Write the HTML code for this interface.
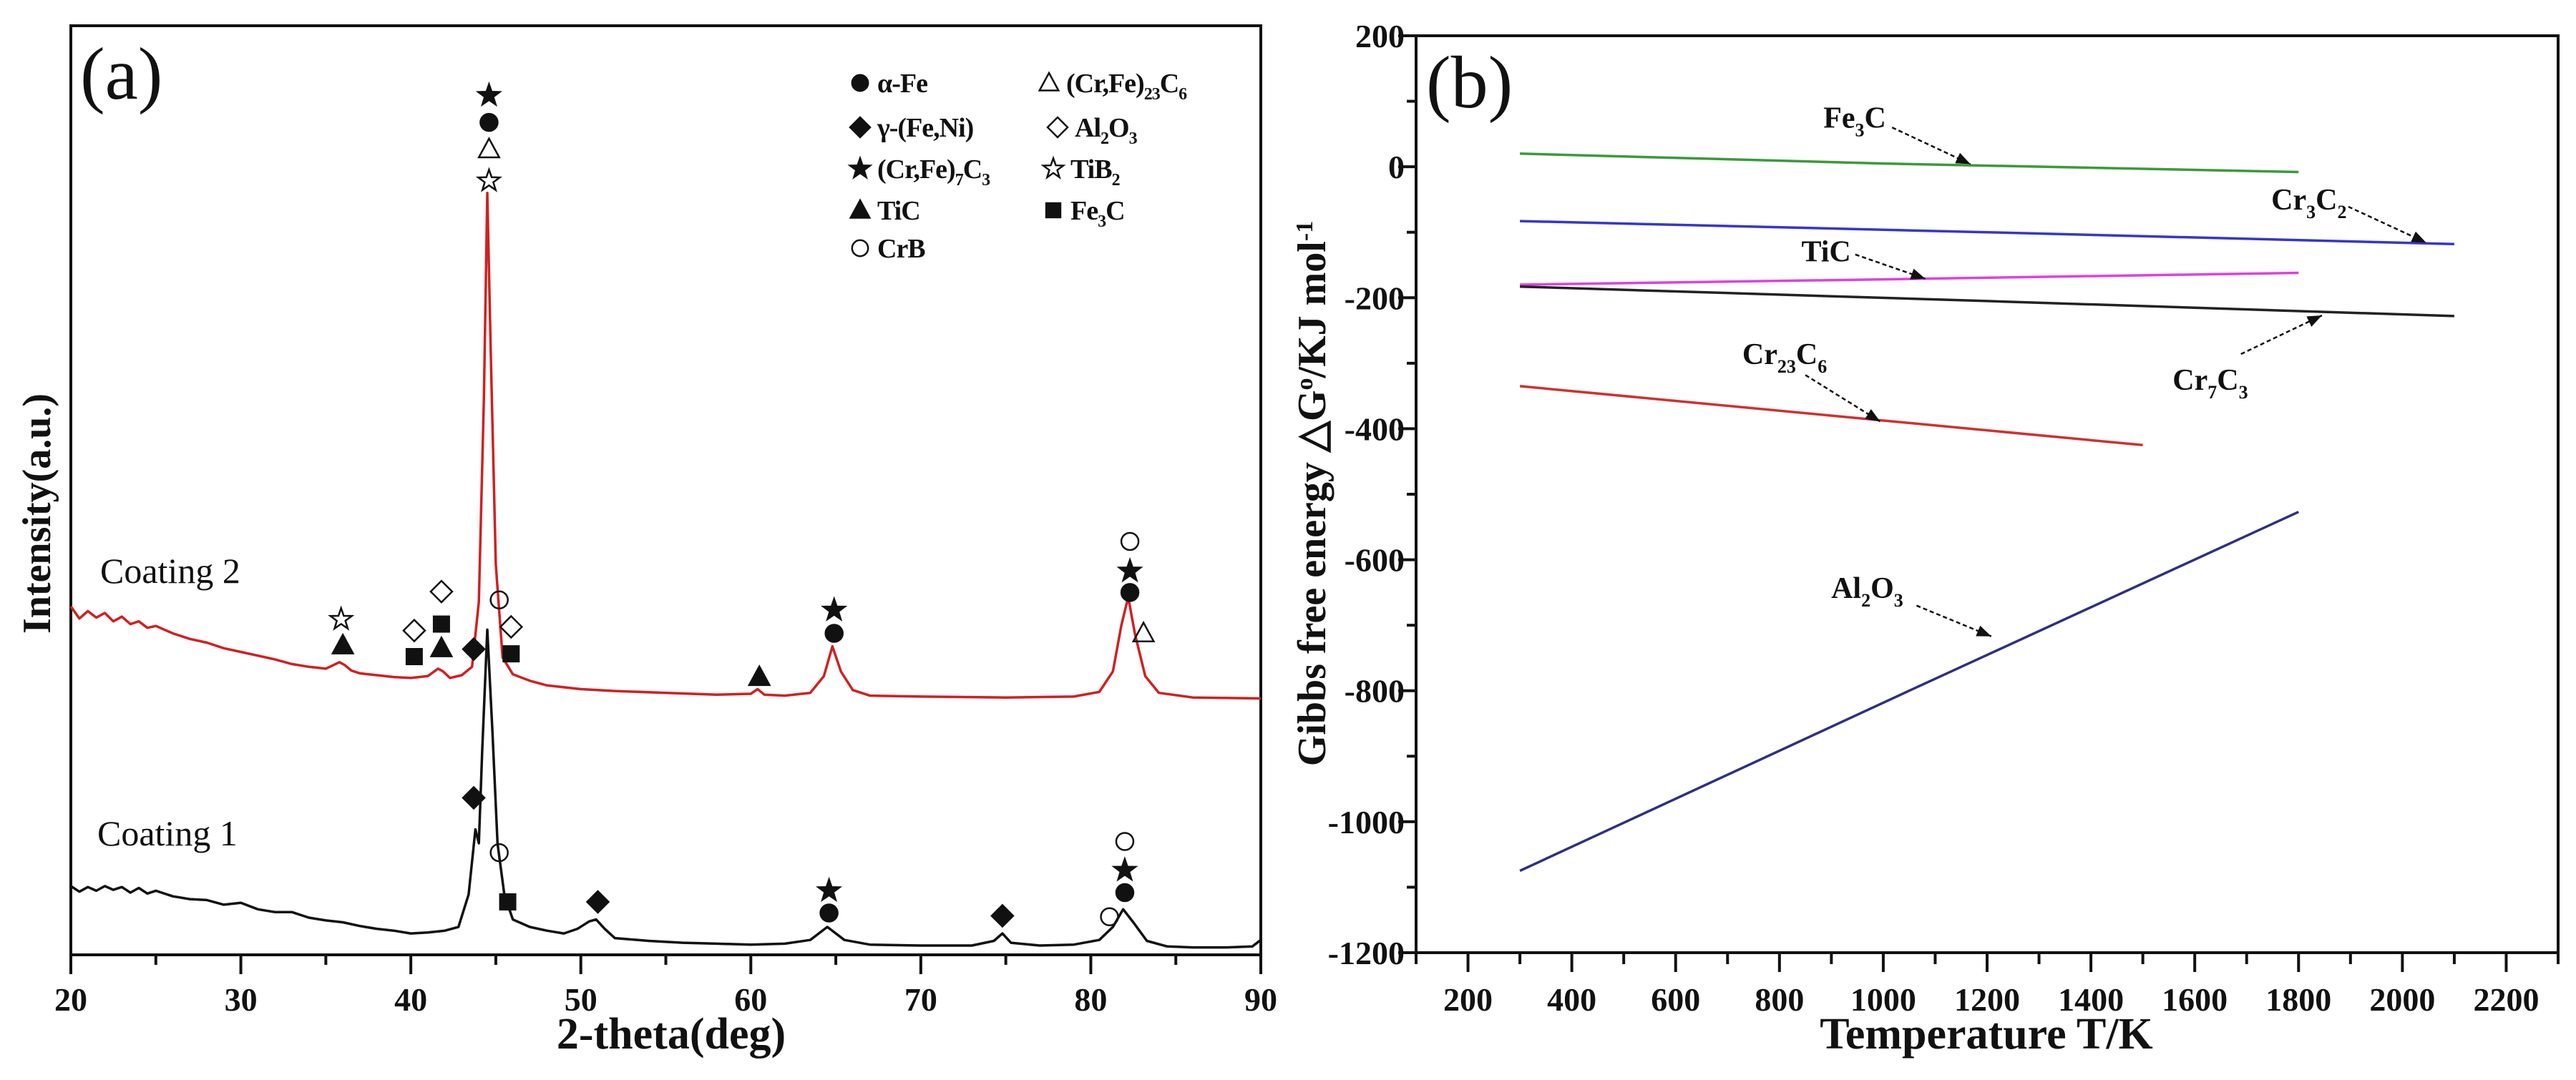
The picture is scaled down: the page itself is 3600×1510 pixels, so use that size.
<!DOCTYPE html>
<html><head><meta charset="utf-8"><style>
html,body{margin:0;padding:0;background:#fff;}
svg{display:block;font-family:"Liberation Serif",serif;}
</style></head><body>
<svg id="fig" width="3600" height="1510" viewBox="0 0 3600 1510" xmlns="http://www.w3.org/2000/svg">
<rect x="0" y="0" width="3600" height="1510" fill="#fff"/>
<g id="pa"></g>
<g id="pb"></g>
</svg>
<script>
// ---------- Panel (a) data ----------
const xTicksA = [20,30,40,50,60,70,80,90];
const c2Deg = [20,20.5,21,21.5,22,22.5,23,23.5,24,24.5,25,26,27,28,29,30,31,32,33,34,35,35.8,36.1,36.5,37,38,39,40,41,41.6,41.9,42.3,43,43.6,44.0,44.3,44.5,44.7,45.0,45.4,46,47,48,50,52,55,58,60,60.4,60.8,62,63.5,64.3,64.8,65.3,66,67,70,75,79,80.5,81.3,81.8,82.2,82.6,83.2,84,86,90];
const c2Int = [37.5,36.2,37.0,36.3,36.8,35.9,36.4,35.6,35.9,35.2,35.4,34.6,34.0,33.6,33.0,32.6,32.2,31.8,31.3,31.0,30.8,31.5,31.2,30.6,30.3,30.1,29.9,29.8,30.0,30.8,30.5,29.8,30.1,31.0,38,60,82,65,42,32,30.2,29.5,29.0,28.6,28.4,28.2,28.0,28.1,28.6,28.0,27.9,28.2,30.0,33.2,30.5,28.5,27.9,27.8,27.7,27.8,28.3,30.5,35.5,38.5,34.5,30.0,28.2,27.7,27.6];
const c1Deg = [20,20.5,21,21.5,22,22.5,23,23.5,24,24.5,25,26,27,28,29,30,31,32,33,34,35,36,37,38,39,40,41,42,42.8,43.4,43.8,44.0,44.2,44.5,44.8,45.1,45.5,46,47,48,49,49.8,50.5,50.9,51.4,52,54,56,58,60,62,63.5,64.5,65.5,67,70,73,74.3,74.8,75.3,77,79,80.5,81.3,81.9,82.5,83.3,84.5,86,88,89.5,90];
const c1Int = [7.4,6.8,7.3,6.9,7.4,7.0,7.3,6.7,7.2,6.6,6.9,6.3,6.0,5.9,5.4,5.6,4.9,4.6,4.6,4.0,3.7,3.5,3.1,2.8,2.6,2.3,2.4,2.6,3.0,6.5,13.5,12,22,35,24,12,6.5,3.8,3.0,2.6,2.3,2.8,3.6,3.8,2.8,1.8,1.5,1.3,1.2,1.1,1.2,1.6,3.0,1.6,1.1,1.0,1.0,1.5,2.3,1.3,1.0,1.1,1.6,3.0,4.9,3.5,1.5,0.9,0.8,0.8,0.9,1.6];
const markType = ['star','circle','otri','ostar','ostar','tri','odiamond','square','odiamond','square','tri','diamond','ocircle','odiamond','square','tri','star','circle','ocircle','star','circle','otri','diamond','ocircle','square','diamond','star','circle','diamond','ocircle','star','circle','ocircle'];
const markDeg  = [44.6,44.6,44.6,44.6,35.9,36.0,40.2,40.2,41.8,41.8,41.8,43.7,45.2,45.9,45.9,60.5,64.9,64.9,82.3,82.3,82.3,83.1,43.7,45.2,45.7,51.0,64.6,64.6,74.8,82.0,82.0,82.0,81.1];
const markInt  = [92.5,89.6,86.7,83.3,36.1,33.3,34.9,32.1,39.1,35.6,33.0,32.9,38.2,35.3,32.4,29.9,37.1,34.6,44.5,41.3,39.0,34.6,16.9,11.0,5.7,5.7,6.9,4.5,4.2,12.2,9.1,6.7,4.1];

// ---------- Panel (b) data ----------
const xTicksB = [200,400,600,800,1000,1200,1400,1600,1800,2000,2200];
const yTicksB = [200,0,-200,-400,-600,-800,-1000,-1200];
const seriesNames = ['Fe3C','Cr3C2','TiC','Cr7C3','Cr23C6','Al2O3'];
const fe3cT=[300,1000,1800], fe3cG=[20,5,-8];
const cr3c2T=[300,1200,2100], cr3c2G=[-83,-100,-118];
const ticT=[300,1000,1800], ticG=[-180,-172,-162];
const cr7c3T=[300,1200,2100], cr7c3G=[-183,-205,-228];
const cr23c6T=[300,900,1500], cr23c6G=[-335,-380,-425];
const al2o3T=[300,1050,1800], al2o3G=[-1075,-800,-527];
const labelT=[945,1820,890,1630,810,969];
const labelG=[75,-50,-129,-325,-286,-643];
const arrowT0=[1017,1896,946,1689,850,1064], arrowG0=[60,-61,-134,-286,-318,-670];
const arrowT1=[1168,2046,1081,1845,994,1208], arrowG1=[4,-116,-171,-227,-389,-717];

const NS='http://www.w3.org/2000/svg';
function mk(parent,tag,attrs){const e=document.createElementNS(NS,tag);for(const k in attrs)e.setAttribute(k,attrs[k]);parent.appendChild(e);return e;}

// ===== Panel A =====
const pa=document.getElementById('pa');
const AL=99,AR=1762,AT=36,AB=1335;
const xA=d=>AL+(d-20)*(AR-AL)/70;
const yA=v=>AB-v*(AB-AT)/100;
let fr=mk(pa,'rect',{x:AL,y:AT,width:AR-AL,height:AB-AT,fill:'none',stroke:'#111','stroke-width':4});


for(let d=20;d<=90;d+=5){
  const major=(d%10===0);
  let t=mk(pa,'line',{x1:xA(d),x2:xA(d),y1:AB,y2:AB+(major?27:14),stroke:'#111','stroke-width':4});
  
  
}
xTicksA.forEach(d=>{
  let t=mk(pa,'text',{x:xA(d),y:1413,'text-anchor':'middle','font-size':46,'font-weight':'bold',fill:'#111'});
  t.textContent=d;
  
  
});
function line(parent,xs,ys,fx,fy,color,w,name){
  let d='';xs.forEach((x,i)=>{d+=(i?'L':'M')+fx(x).toFixed(1)+' '+fy(ys[i]).toFixed(1);});
  let p=mk(parent,'path',{d:d,fill:'none',stroke:color,'stroke-width':w,'stroke-linejoin':'round'});
  
  
  return p;
}
line(pa,c2Deg,c2Int,xA,yA,'#d02020',3.5,'coating-2-line');
line(pa,c1Deg,c1Int,xA,yA,'#111',3.5,'coating-1-line');

function marker(g,type,cx,cy,r){
  const sw=2.5;let e;
  const fill=(type[0]==='o')?'none':'#111';
  const base=type.replace(/^o(?=(circle|diamond|star|tri))/,'');
  if(base==='circle'){e=mk(g,'circle',{cx:cx,cy:cy,r:r*0.8,fill:fill,stroke:'#111','stroke-width':sw});}
  else if(base==='square'){e=mk(g,'rect',{x:cx-r*0.8,y:cy-r*0.8,width:r*1.6,height:r*1.6,fill:'#111'});}
  else if(base==='diamond'){e=mk(g,'polygon',{points:`${cx},${cy-r} ${cx+r},${cy} ${cx},${cy+r} ${cx-r},${cy}`,fill:fill,stroke:'#111','stroke-width':sw});}
  else if(base==='tri'){e=mk(g,'polygon',{points:`${cx},${cy-r} ${cx+r*0.95},${cy+r*0.75} ${cx-r*0.95},${cy+r*0.75}`,fill:fill,stroke:'#111','stroke-width':sw});}
  else if(base==='star'){let pts=[];for(let i=0;i<10;i++){const a=-Math.PI/2+i*Math.PI/5;const rr=(i%2?r*0.42:r*1.05);pts.push((cx+rr*Math.cos(a)).toFixed(1)+','+(cy+rr*Math.sin(a)).toFixed(1));}
    e=mk(g,'polygon',{points:pts.join(' '),fill:fill,stroke:'#111','stroke-width':sw});}
  return e;
}
markType.forEach((t,i)=>{
  let m=marker(pa,t,xA(markDeg[i]),yA(markInt[i]),15);
  
  
});

// legend
const legItems=[
 ['circle',1202,116,'α-Fe',null,null],
 ['otri',1466,116,'(Cr,Fe)','23','C','6'],
 ['diamond',1202,178,'γ-(Fe,Ni)',null,null],
 ['odiamond',1478,178,'Al','2','O','3'],
 ['star',1202,236,'(Cr,Fe)','7','C','3'],
 ['ostar',1472,236,'TiB','2',null],
 ['tri',1202,294,'TiC',null,null],
 ['square',1472,294,'Fe','3','C'],
 ['ocircle',1202,347,'CrB',null,null]
];
legItems.forEach(it=>{
  let g=mk(pa,'g',{});
  
  
  marker(g,it[0],it[1],it[2],14);
  let t=mk(g,'text',{x:it[1]+24,y:it[2]+13,'font-size':38,'font-weight':'bold','letter-spacing':-1,fill:'#111'});
  let s=mk(t,'tspan',{});s.textContent=it[3];
  if(it[4]){let a=mk(t,'tspan',{'font-size':24,dy:10});a.textContent=it[4];}
  if(it[5]){let b=mk(t,'tspan',{dy:-10});b.textContent=it[5];}
  if(it[6]){let c=mk(t,'tspan',{'font-size':24,dy:10});c.textContent=it[6];}
});
function txt(parent,x,y,s,size,weight,name,extra){
  let t=mk(parent,'text',Object.assign({x:x,y:y,'font-size':size,'font-weight':weight,fill:'#111'},extra||{}));
  t.textContent=s;
  
  
  return t;
}
txt(pa,112,138,'(a)',104,'normal','panel-label-a');
txt(pa,140,815,'Coating 2',50,'normal','coating-2-label');
txt(pa,136,1182,'Coating 1',50,'normal','coating-1-label');
txt(pa,938,1466,'2-theta(deg)',62,'bold','x-axis-title-a',{'text-anchor':'middle'});
txt(pa,0,0,'Intensity(a.u.)',56,'bold','y-axis-title-a',{'text-anchor':'middle',transform:'translate(70,718) rotate(-90)'});

// ===== Panel B =====
const pb=document.getElementById('pb');
const BL=1979,BR=3575,BT=50,BB=1332;
const xB=T=>BL+(T-100)*(BR-BL)/2200;
const yB=G=>BT+(200-G)*(BB-BT)/1400;
let fb=mk(pb,'rect',{x:BL,y:BT,width:BR-BL,height:BB-BT,fill:'none',stroke:'#111','stroke-width':4});


for(let T=100;T<=2300;T+=100){
  const major=(T%200===0);
  let t=mk(pb,'line',{x1:xB(T),x2:xB(T),y1:BB,y2:BB+(major?27:16),stroke:'#111','stroke-width':4});
  
  
}
for(let G=200;G>=-1200;G-=100){
  const major=(G%200===0);
  let t=mk(pb,'line',{x1:BL-(major?25:13),x2:BL,y1:yB(G),y2:yB(G),stroke:'#111','stroke-width':4});
  
  
}
xTicksB.forEach(T=>{txt(pb,xB(T),1413,String(T),46,'bold','x-tick-label-b',{'text-anchor':'middle'});});
yTicksB.forEach(G=>{txt(pb,1963,yB(G)+16,String(G),46,'bold','y-tick-label-b',{'text-anchor':'end'});});
txt(pb,1993,150,'(b)',104,'normal','panel-label-b');
txt(pb,2776,1466,'Temperature T/K',62,'bold','x-axis-title-b',{'text-anchor':'middle'});
let yt=txt(pb,0,0,'Gibbs free energy △G',56,'bold','y-axis-title-b',{'text-anchor':'middle',transform:'translate(1852,690) rotate(-90)'});
let s1=mk(yt,'tspan',{'font-size':34,dy:-18});s1.textContent='o';
let s2=mk(yt,'tspan',{dy:18});s2.textContent='/KJ mol';
let s3=mk(yt,'tspan',{'font-size':34,dy:-18});s3.textContent='-1';

const colors=['#3a9a3a','#3535d0','#e040e0','#222','#d03030','#303080'];
const Ts=[fe3cT,cr3c2T,ticT,cr7c3T,cr23c6T,al2o3T];
const Gs=[fe3cG,cr3c2G,ticG,cr7c3G,cr23c6G,al2o3G];
seriesNames.forEach((n,i)=>{line(pb,Ts[i],Gs[i],xB,yB,colors[i],3.5,'line-'+n.toLowerCase());});

const labParts=[['Fe','3','C',''],['Cr','3','C','2'],['TiC','','',''],['Cr','7','C','3'],['Cr','23','C','6'],['Al','2','O','3']];
seriesNames.forEach((n,i)=>{
  let a=mk(pb,'line',{x1:xB(arrowT0[i]),y1:yB(arrowG0[i]),x2:xB(arrowT1[i]),y2:yB(arrowG1[i]),stroke:'#111','stroke-width':2.5,'stroke-dasharray':'6 4'});
  
  
  const x1=xB(arrowT1[i]),y1=yB(arrowG1[i]),x0=xB(arrowT0[i]),y0=yB(arrowG0[i]);
  const ang=Math.atan2(y1-y0,x1-x0),L=20,W=8;
  const bx=x1-L*Math.cos(ang),by=y1-L*Math.sin(ang);
  let h=mk(pb,'polygon',{points:`${x1},${y1} ${bx+W*Math.sin(ang)},${by-W*Math.cos(ang)} ${bx-W*Math.sin(ang)},${by+W*Math.cos(ang)}`,fill:'#111'});
  
  
  const p=labParts[i];
  let t=mk(pb,'text',{x:xB(labelT[i]),y:yB(labelG[i])+14,'text-anchor':'middle','font-size':42,'font-weight':'bold',fill:'#111'});
  
  
  let q=mk(t,'tspan',{});q.textContent=p[0];
  if(p[1]){let u=mk(t,'tspan',{'font-size':26,dy:12});u.textContent=p[1];}
  if(p[2]){let u=mk(t,'tspan',{dy:-12});u.textContent=p[2];}
  if(p[3]){let u=mk(t,'tspan',{'font-size':26,dy:12});u.textContent=p[3];}
});
</script>
</body></html>
